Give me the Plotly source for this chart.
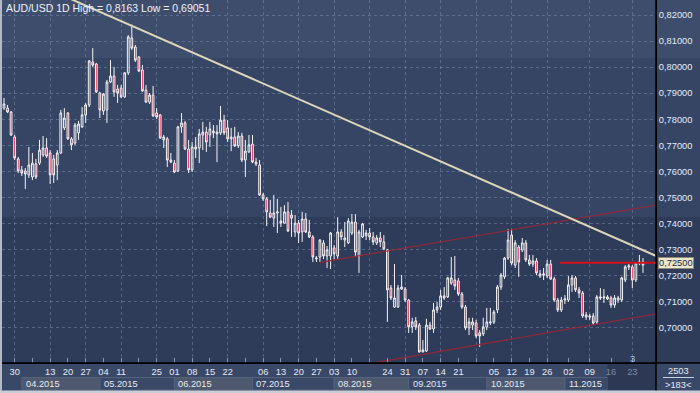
import plotly.graph_objects as go

# ---------------- data (daily AUD/USD candles, bar index 0 = 25.03.2015) ----------------
open_ = [0.7843,0.7843,0.7828,0.7732,0.7648,0.7606,0.7602,0.7587,0.7579,0.7629,
         0.7632,0.7663,0.7690,0.7671,0.7648,0.7625,0.7671,0.7767,0.7824,0.7725,
         0.7709,0.7748,0.7771,0.7817,0.7855,0.8020,0.8012,0.7901,0.7832,0.7836,
         0.7943,0.7966,0.7916,0.7920,0.7886,0.7978,0.8112,0.8077,0.8039,0.7989,
         0.7912,0.7866,0.7893,0.7824,0.7817,0.7721,0.7725,0.7644,0.7632,0.7602,
         0.7771,0.7786,0.7686,0.7606,0.7694,0.7690,0.7740,0.7751,0.7740,0.7755,
         0.7751,0.7748,0.7797,0.7767,0.7725,0.7732,0.7698,0.7736,0.7644,0.7675,
         0.7705,0.7636,0.7625,0.7510,0.7495,0.7441,0.7421,0.7441,0.7410,0.7402,
         0.7445,0.7433,0.7368,0.7402,0.7368,0.7418,0.7368,0.7349,0.7265,0.7272,
         0.7326,0.7276,0.7276,0.7307,0.7276,0.7368,0.7337,0.7326,0.7364,0.7406,
         0.7276,0.7349,0.7353,0.7364,0.7349,0.7326,0.7345,0.7330,0.7299,0.7153,
         0.7080,0.7080,0.7149,0.7149,0.7107,0.7004,0.7027,0.7011,0.6908,0.6912,
         0.7011,0.6996,0.7069,0.7080,0.7123,0.7119,0.7172,0.7184,0.7180,0.7130,
         0.7080,0.7000,0.7011,0.7019,0.6981,0.6977,0.7004,0.7019,0.7023,0.7069,
         0.7157,0.7196,0.7268,0.7356,0.7241,0.7310,0.7299,0.7326,0.7261,0.7245,
         0.7257,0.7207,0.7203,0.7199,0.7245,0.7188,0.7107,0.7069,0.7107,0.7107,
         0.7165,0.7192,0.7146,0.7134,0.7042,0.7046,0.7046,0.7023,0.7119,0.7115,
         0.7119,0.7115,0.7088,0.7107,0.7107,0.7184,0.7234,0.7234,0.7184,0.7249,
         0.7253]
high = [0.7882,0.7855,0.7832,0.7740,0.7656,0.7621,0.7613,0.7694,0.7671,0.7648,
        0.7721,0.7736,0.7728,0.7682,0.7663,0.7682,0.7836,0.7843,0.7828,0.7732,
        0.7786,0.7794,0.7847,0.7862,0.8027,0.8073,0.8016,0.7905,0.7901,0.7951,
        0.8027,0.8001,0.7932,0.7932,0.7981,0.8123,0.8163,0.8085,0.8043,0.8008,
        0.7932,0.7901,0.7928,0.7843,0.7820,0.7740,0.7732,0.7671,0.7644,0.7775,
        0.7824,0.7794,0.7721,0.7713,0.7732,0.7763,0.7790,0.7771,0.7790,0.7778,
        0.7778,0.7851,0.7817,0.7797,0.7767,0.7771,0.7751,0.7748,0.7721,0.7740,
        0.7740,0.7652,0.7644,0.7518,0.7502,0.7491,0.7510,0.7495,0.7464,0.7471,
        0.7483,0.7452,0.7433,0.7414,0.7445,0.7441,0.7414,0.7356,0.7276,0.7341,
        0.7337,0.7314,0.7368,0.7318,0.7425,0.7379,0.7406,0.7421,0.7437,0.7437,
        0.7376,0.7402,0.7376,0.7383,0.7368,0.7356,0.7368,0.7356,0.7303,0.7165,
        0.7245,0.7165,0.7203,0.7157,0.7111,0.7039,0.7042,0.7019,0.6954,0.7035,
        0.7023,0.7096,0.7100,0.7146,0.7157,0.7196,0.7272,0.7276,0.7192,0.7138,
        0.7088,0.7039,0.7039,0.7031,0.6992,0.7039,0.7077,0.7077,0.7069,0.7165,
        0.7211,0.7272,0.7379,0.7379,0.7337,0.7318,0.7345,0.7337,0.7280,0.7280,
        0.7268,0.7222,0.7230,0.7261,0.7261,0.7196,0.7115,0.7119,0.7126,0.7199,
        0.7203,0.7199,0.7157,0.7142,0.7061,0.7054,0.7057,0.7126,0.7153,0.7149,
        0.7126,0.7123,0.7126,0.7123,0.7196,0.7241,0.7245,0.7241,0.7253,0.7280,
        0.7268]
low = [0.7836,0.7824,0.7736,0.7644,0.7594,0.7583,0.7533,0.7575,0.7567,0.7571,
       0.7625,0.7656,0.7652,0.7552,0.7556,0.7567,0.7667,0.7759,0.7721,0.7682,
       0.7702,0.7721,0.7767,0.7786,0.7847,0.8001,0.7901,0.7805,0.7817,0.7786,
       0.7939,0.7886,0.7863,0.7882,0.7882,0.7970,0.8066,0.8020,0.7981,0.7905,
       0.7863,0.7859,0.7809,0.7801,0.7725,0.7690,0.7617,0.7632,0.7594,0.7598,
       0.7748,0.7682,0.7594,0.7598,0.7652,0.7632,0.7682,0.7675,0.7694,0.7728,
       0.7636,0.7740,0.7740,0.7713,0.7678,0.7694,0.7690,0.7636,0.7579,0.7671,
       0.7632,0.7621,0.7506,0.7487,0.7391,0.7421,0.7387,0.7364,0.7387,0.7399,
       0.7368,0.7349,0.7349,0.7326,0.7330,0.7364,0.7345,0.7253,0.7253,0.7253,
       0.7264,0.7230,0.7226,0.7264,0.7264,0.7337,0.7310,0.7322,0.7356,0.7272,
       0.7211,0.7345,0.7337,0.7337,0.7318,0.7318,0.7310,0.7299,0.7023,0.7107,
       0.7077,0.7077,0.7146,0.7100,0.6981,0.6981,0.6992,0.69051,0.6907,0.6908,
       0.6992,0.6981,0.7057,0.7069,0.7107,0.7115,0.7165,0.7146,0.7123,0.7073,
       0.6992,0.6973,0.6992,0.6961,0.6927,0.6969,0.6992,0.7011,0.7015,0.7057,
       0.7146,0.7188,0.7261,0.7241,0.7230,0.7196,0.7291,0.7253,0.7238,0.7234,
       0.7203,0.7192,0.7184,0.7192,0.7184,0.7100,0.7061,0.7061,0.7092,0.7100,
       0.7138,0.7138,0.7115,0.7039,0.7031,0.7031,0.7011,0.7015,0.7107,0.7096,
       0.7107,0.7077,0.7077,0.7096,0.7100,0.7176,0.7222,0.7153,0.7176,0.7241,
       0.7211]
close = [0.7859,0.7828,0.7740,0.7652,0.7602,0.7594,0.7590,0.7625,0.7632,0.7579,
         0.7682,0.7690,0.7659,0.7587,0.7587,0.7671,0.7824,0.7805,0.7725,0.7702,
         0.7778,0.7782,0.7817,0.7855,0.8024,0.8008,0.7905,0.7836,0.7897,0.7943,
         0.7966,0.7905,0.7901,0.7886,0.7978,0.8116,0.8073,0.8027,0.7985,0.7909,
         0.7866,0.7893,0.7813,0.7809,0.7728,0.7732,0.7644,0.7636,0.7598,0.7771,
         0.7786,0.7686,0.7606,0.7694,0.7686,0.7744,0.7751,0.7713,0.7763,0.7748,
         0.7744,0.7797,0.7748,0.7725,0.7732,0.7698,0.7736,0.7644,0.7678,0.7702,
         0.7636,0.7629,0.7510,0.7495,0.7445,0.7425,0.7441,0.7445,0.7402,0.7445,
         0.7372,0.7421,0.7402,0.7364,0.7418,0.7368,0.7349,0.7272,0.7268,0.7337,
         0.7276,0.7299,0.7364,0.7284,0.7368,0.7349,0.7345,0.7410,0.7406,0.7291,
         0.7368,0.7399,0.7364,0.7349,0.7330,0.7345,0.7330,0.7303,0.7146,0.7115,
         0.7115,0.7153,0.7157,0.7107,0.7004,0.7023,0.7004,0.6908,0.6916,0.7011,
         0.6996,0.7069,0.7080,0.7123,0.7115,0.7192,0.7192,0.7161,0.7130,0.7080,
         0.7000,0.7023,0.7023,0.6969,0.6969,0.7004,0.7023,0.7023,0.7061,0.7157,
         0.7203,0.7268,0.7337,0.7249,0.7326,0.7253,0.7326,0.7261,0.7245,0.7257,
         0.7211,0.7199,0.7207,0.7245,0.7188,0.7107,0.7069,0.7107,0.7111,0.7165,
         0.7192,0.7146,0.7134,0.7046,0.7050,0.7042,0.7019,0.7119,0.7115,0.7119,
         0.7111,0.7088,0.7115,0.7115,0.7192,0.7234,0.7238,0.7184,0.7249,0.7253,
         0.7241]
bar_idx = list(range(len(open_)))

week_idx = [3, 8, 13, 18, 23, 28, 33, 38, 43, 48, 53, 58, 63, 68, 73, 78, 83, 88,
            93, 98, 103, 108, 113, 118, 123, 128, 133, 138, 143, 148, 153, 159,
            165, 171, 177]
week_lbl = ["30", "", "13", "20", "27", "04", "11", "", "25", "01", "08", "15", "22",
            "", "06", "13", "20", "27", "03", "10", "", "24", "31", "07", "14", "21",
            "", "05", "12", "19", "26", "02", "09",
            "<span style='color:#7d8ba6'>16</span>", "<span style='color:#7d8ba6'>23</span>"]
grid_idx = [3, 13, 23, 33, 43, 53, 63, 73, 83, 93, 103, 113, 123, 133, 143, 153, 165, 177]
month_start = [5, 27, 48, 70, 93, 114, 136, 158, 170]
month_lbl = ["04.2015", "05.2015", "06.2015", "07.2015", "08.2015", "09.2015",
             "10.2015", "11.2015"]
y_ticks = [0.70, 0.71, 0.72, 0.73, 0.74, 0.75, 0.76, 0.77, 0.78, 0.79, 0.80, 0.81, 0.82]

# drawn trend lines (anchor points in bar index / price)
beige_x, beige_y = [19.0, 183.7], [0.8260, 0.7276]
chan_up_x, chan_up_y = [89.0, 183.7], [0.7251, 0.7471]
chan_lo_x, chan_lo_y = [100.0, 183.7], [0.6856, 0.7054]
hline_x, hline_y = [156.5, 183.7], [0.725, 0.725]
last_price = 0.725

title_txt = "AUD/USD 1D High = 0,8163 Low = 0,69051"
first_bar_txt, bars_txt = "2503", ">183<"

# ---------------- geometry helpers (layout only) ----------------
X_RANGE = [-0.563, 183.67]
Y_RANGE = [0.68656, 0.82575]
PW, PH = 654.0, 363.0
def px_x(p):
    return (p - 2) / PW
def px_y(p):
    return (PH - p) / PH

FONT = "Liberation Sans, Arial, sans-serif"
NARROW = "Liberation Sans Narrow, Arial Narrow, Liberation Sans, sans-serif"
TXT = "#e4ebf5"

fig = go.Figure()
fig.add_trace(go.Candlestick(
    x=bar_idx, open=open_, high=high, low=low, close=close,
    increasing=dict(line=dict(color="#f4f4f4", width=1), fillcolor="rgba(0,0,0,0)"),
    decreasing=dict(line=dict(color="#f4f4f4", width=1), fillcolor="#e3143c"),
    whiskerwidth=0, hoverinfo="skip", showlegend=False))

for xs, ys, col, w in [(chan_up_x, chan_up_y, "rgba(150,40,55,0.9)", 1.3),
                       (chan_lo_x, chan_lo_y, "rgba(150,40,55,0.9)", 1.3),
                       (hline_x, hline_y, "#d40f1e", 2),
                       (beige_x, beige_y, "#ddd6ba", 2)]:
    fig.add_trace(go.Scatter(x=xs, y=ys, mode="lines", xaxis="x2", yaxis="y",
                             line=dict(color=col, width=w), hoverinfo="skip",
                             showlegend=False))

shapes = []
# background bands
for y0, y1, col in [(0.8035, 0.84, "#3e4d6c"), (0.7425, 0.8035, "#374564"),
                    (0.68, 0.7425, "#2e3b59")]:
    shapes.append(dict(type="rect", xref="paper", yref="y", x0=0, x1=px_x(700),
                       y0=y0, y1=y1, fillcolor=col, line_width=0, layer="below"))
# month boxes
for k, lbl in enumerate(month_lbl):
    col = "#4e586e" if k % 2 == 0 else "#3b4968"
    shapes.append(dict(type="rect", xref="x", yref="paper", x0=month_start[k],
                       x1=month_start[k + 1], y0=px_y(390), y1=px_y(377.5),
                       fillcolor=col, line=dict(color="#56627a", width=1), layer="below"))
# dark future area under dates
shapes.append(dict(type="rect", xref="x", yref="paper", x0=month_start[-1], x1=X_RANGE[1],
                   y0=px_y(390), y1=px_y(364), fillcolor="#2d3954", line_width=0,
                   layer="below"))
# frame lines
shapes.append(dict(type="line", xref="paper", yref="paper", x0=0, x1=px_x(700),
                   y0=0, y1=0, line=dict(color="black", width=1.5)))
shapes.append(dict(type="line", xref="paper", yref="paper", x0=1, x1=1,
                   y0=px_y(393), y1=1, line=dict(color="black", width=1.5)))
shapes.append(dict(type="line", xref="paper", yref="paper", x0=px_x(663), x1=px_x(694),
                   y0=px_y(377.5), y1=px_y(377.5), line=dict(color="#c8d0dc", width=1)))
shapes.append(dict(type="rect", xref="paper", yref="paper", x0=px_x(0), x1=px_x(2),
                   y0=px_y(393), y1=1, fillcolor="#b3bac6", line_width=0))
shapes.append(dict(type="rect", xref="paper", yref="paper", x0=px_x(0), x1=px_x(700),
                   y0=px_y(393), y1=px_y(390.5), fillcolor="#c9cdd5", line_width=0))

annotations = [
    dict(text=title_txt, xref="paper", yref="paper", x=px_x(4), y=px_y(7.5),
         xanchor="left", yanchor="middle", showarrow=False,
         font=dict(family=NARROW, size=10.5, color="#eef2f8")),
    dict(text="3", xref="x", yref="paper", x=177, y=px_y(358), showarrow=False,
         xanchor="center", yanchor="middle", font=dict(family=FONT, size=9.5, color="#9cc3f0")),
    dict(text=("%.5f" % last_price).replace(".", ","), xref="paper", yref="y",
         x=px_x(658), y=last_price, xanchor="left", yanchor="middle", showarrow=False,
         bgcolor="#ebe6cf", bordercolor="#8f8a74", borderwidth=1, borderpad=0,
         font=dict(family=FONT, size=9.3, color="#1c2740")),
    dict(text=first_bar_txt, xref="paper", yref="paper", x=px_x(678), y=px_y(370.5),
         xanchor="center", yanchor="middle", showarrow=False,
         font=dict(family=FONT, size=9.3, color=TXT)),
    dict(text=bars_txt, xref="paper", yref="paper", x=px_x(678), y=px_y(384.5),
         xanchor="center", yanchor="middle", showarrow=False,
         font=dict(family=FONT, size=9.3, color=TXT)),
]
for k, lbl in enumerate(month_lbl):
    annotations.append(dict(text=lbl, xref="x", yref="paper", x=month_start[k], xshift=2,
                            y=px_y(384), xanchor="left", yanchor="middle", showarrow=False,
                            font=dict(family=FONT, size=9.3, color=TXT)))

fig.update_layout(
    width=700, height=393, margin=dict(l=2, r=44, t=0, b=30),
    paper_bgcolor="#3a4868", plot_bgcolor="rgba(0,0,0,0)",
    separators=", ", showlegend=False, shapes=shapes, annotations=annotations,
    font=dict(family=FONT, color=TXT),
    xaxis=dict(range=X_RANGE, rangeslider=dict(visible=False), tickmode="array",
               tickvals=week_idx, ticktext=week_lbl, ticks="inside", ticklen=5,
               tickcolor="#8896ae", tickfont=dict(family=FONT, size=9.3, color=TXT),
               showgrid=False, showline=True, linecolor="black", linewidth=1,
               zeroline=False, fixedrange=True, automargin=False),
    xaxis2=dict(range=X_RANGE, overlaying="x", anchor="y", side="bottom",
                tickmode="array", tickvals=grid_idx, showticklabels=False, ticks="",
                showgrid=True, gridcolor="rgba(120,136,168,0.55)", griddash="3px,3px",
                gridwidth=1, showline=False, zeroline=False, fixedrange=True),
    yaxis=dict(range=Y_RANGE, side="right", tickmode="array", tickvals=y_ticks,
               tickformat=".5f", ticks="", tickfont=dict(family=FONT, size=9.3, color=TXT),
               showgrid=True, gridcolor="rgba(120,136,168,0.55)", griddash="3px,3px",
               gridwidth=1, showline=True, linecolor="black", linewidth=1,
               zeroline=False, fixedrange=True, automargin=False),
)

fig.write_html("out.html", config={"displayModeBar": False},
               post_script="document.body.style.margin='0';document.body.style.overflow='hidden';")
